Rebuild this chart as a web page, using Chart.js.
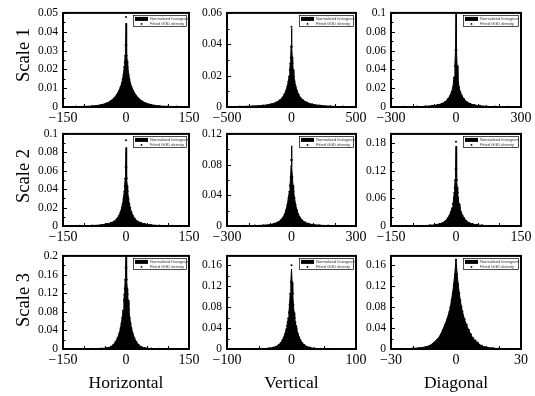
<!DOCTYPE html>
<html lang="en">
<head>
<meta charset="UTF-8">
<title>Subband histograms with GGD fits</title>
<script src="https://cdn.jsdelivr.net/npm/chart.js"></script>
<style>
  body { margin: 0; background: #fff; font-family: 'Liberation Serif', 'Times New Roman', serif; }
  #wrap { position: relative; width: 535px; height: 396px; overflow: hidden; }
  #wrap canvas { position: absolute; }
  .rowlab { position: absolute; font-size: 18.5px; line-height: 18.5px; white-space: nowrap;
            transform: translate(-50%, -50%) rotate(-90deg); }
  .collab { position: absolute; font-size: 17.5px; line-height: 17.5px; white-space: nowrap;
            transform: translateX(-50%); }
</style>
</head>
<body>
<div id="wrap"></div>
<script>
// row / column names
const rowNames = ['Scale 1', 'Scale 2', 'Scale 3'];
const colNames = ['Horizontal', 'Vertical', 'Diagonal'];
const histLabel = 'Normalized histogram';
const fitLabel = 'Fitted GGD density';

// Scale 1, horizontal
const binsH1 = [-150,-120,-100,-80,-60,-45,-35,-28,-22,-17,-13,-10,-8,-6,-4,-3,-2,-1,0,1,2,3,4,6,8,10,13,17,22,28,35,45,60,80,100,120,150];
const histH1 = [0.0001,0.0002,0.0003,0.0005,0.0011,0.0021,0.0035,0.0049,0.0066,0.0086,0.0107,0.0128,0.0149,0.0176,0.0218,0.0242,0.0275,0.0338,0.0445,0.0331,0.0279,0.0246,0.0221,0.0181,0.0153,0.0131,0.0109,0.0089,0.0069,0.0051,0.0037,0.0023,0.0012,0.0005,0.0003,0.00015,0.0001];
const fitH1  = [0.0001,0.0002,0.0003,0.0005,0.0010,0.0020,0.0033,0.0047,0.0064,0.0084,0.0105,0.0126,0.0146,0.0172,0.0212,0.0238,0.0272,0.0330,0.0478,0.0330,0.0272,0.0238,0.0212,0.0172,0.0146,0.0126,0.0105,0.0084,0.0064,0.0047,0.0033,0.0020,0.0010,0.0005,0.0003,0.0002,0.0001];

// Scale 1, vertical
const binsV1 = [-500,-400,-300,-220,-160,-120,-90,-70,-55,-42,-32,-24,-18,-13,-9,-6,-3,0,3,6,9,13,18,24,32,42,55,70,90,120,160,220,300,400,500];
const histV1 = [0.0001,0.0003,0.0006,0.0010,0.0018,0.0029,0.0045,0.0061,0.0081,0.0106,0.0134,0.0166,0.0199,0.0241,0.0282,0.0322,0.0392,0.0502,0.0388,0.0318,0.0279,0.0238,0.0201,0.0163,0.0136,0.0104,0.0079,0.0059,0.0043,0.0028,0.0017,0.0010,0.0005,0.0002,0.0001];
const fitV1  = [0.0001,0.0003,0.0005,0.0010,0.0017,0.0028,0.0043,0.0059,0.0079,0.0103,0.0131,0.0162,0.0195,0.0236,0.0277,0.0316,0.0384,0.0512,0.0384,0.0316,0.0277,0.0236,0.0195,0.0162,0.0131,0.0103,0.0079,0.0059,0.0043,0.0028,0.0017,0.0010,0.0005,0.0003,0.0001];

// Scale 1, diagonal
const binsD1 = [-300,-240,-180,-140,-110,-85,-65,-50,-38,-28,-20,-14,-9,-5,-2,0,2,5,9,14,20,28,38,50,65,85,110,140,180,240,300];
const histD1 = [0.0001,0.0002,0.0004,0.0007,0.0013,0.0022,0.0036,0.0055,0.0085,0.0118,0.0163,0.0212,0.0322,0.0448,0.0625,0.1040,0.0610,0.0441,0.0318,0.0209,0.0160,0.0115,0.0082,0.0053,0.0035,0.0021,0.0012,0.0007,0.0004,0.0002,0.0001];
const fitD1  = [0.0001,0.0002,0.0004,0.0007,0.0012,0.0021,0.0035,0.0053,0.0082,0.0114,0.0158,0.0207,0.0312,0.0436,0.0605,0.1120,0.0605,0.0436,0.0312,0.0207,0.0158,0.0114,0.0082,0.0053,0.0035,0.0021,0.0012,0.0007,0.0004,0.0002,0.0001];

// Scale 2, horizontal
const binsH2 = [-150,-110,-80,-60,-45,-35,-28,-22,-17,-13,-10,-8,-6,-4,-3,-2,-1,0,1,2,3,4,6,8,10,13,17,22,28,35,45,60,80,110,150];
const histH2 = [0.0001,0.0002,0.0005,0.0011,0.0023,0.0036,0.0051,0.0077,0.0112,0.0152,0.0203,0.0241,0.0302,0.0383,0.0443,0.0524,0.0656,0.0852,0.0648,0.0517,0.0437,0.0378,0.0298,0.0238,0.0198,0.0149,0.0109,0.0074,0.0049,0.0034,0.0021,0.0011,0.0005,0.0002,0.0001];
const fitH2  = [0.0001,0.0002,0.0005,0.0010,0.0021,0.0034,0.0049,0.0074,0.0108,0.0148,0.0198,0.0236,0.0295,0.0375,0.0435,0.0515,0.0640,0.0930,0.0640,0.0515,0.0435,0.0375,0.0295,0.0236,0.0198,0.0148,0.0108,0.0074,0.0049,0.0034,0.0021,0.0010,0.0005,0.0002,0.0001];

// Scale 2, vertical
const binsV2 = [-300,-220,-170,-130,-100,-80,-62,-50,-40,-32,-25,-19,-14,-10,-7,-4,-2,0,2,4,7,10,14,19,25,32,40,50,62,80,100,130,170,220,300];
const histV2 = [0.0001,0.0002,0.0005,0.0010,0.0018,0.0031,0.0051,0.0077,0.0112,0.0153,0.0213,0.0283,0.0372,0.0452,0.0533,0.0645,0.0788,0.1045,0.0775,0.0637,0.0528,0.0447,0.0367,0.0278,0.0208,0.0148,0.0108,0.0074,0.0049,0.0029,0.0018,0.0010,0.0005,0.0002,0.0001];
const fitV2  = [0.0001,0.0002,0.0005,0.0009,0.0017,0.0030,0.0049,0.0075,0.0109,0.0150,0.0208,0.0277,0.0365,0.0445,0.0525,0.0640,0.0860,0.1250,0.0860,0.0640,0.0525,0.0445,0.0365,0.0277,0.0208,0.0150,0.0109,0.0075,0.0049,0.0030,0.0017,0.0009,0.0005,0.0002,0.0001];

// Scale 2, diagonal
const binsD2 = [-150,-110,-80,-60,-48,-38,-30,-24,-19,-15,-12,-9,-7,-5,-4,-3,-2,-1,0,1,2,3,4,5,7,9,12,15,19,24,30,38,48,60,80,110,150];
const histD2 = [0.0001,0.0002,0.0006,0.0015,0.0027,0.0046,0.0074,0.0112,0.0172,0.0233,0.0304,0.0393,0.0484,0.0626,0.0727,0.0846,0.1012,0.1262,0.1735,0.1238,0.0988,0.0834,0.0713,0.0614,0.0476,0.0387,0.0297,0.0228,0.0168,0.0108,0.0070,0.0044,0.0025,0.0014,0.0006,0.0002,0.0001];
const fitD2  = [0.0001,0.0002,0.0006,0.0014,0.0026,0.0045,0.0072,0.0110,0.0168,0.0228,0.0298,0.0386,0.0476,0.0615,0.0714,0.0832,0.0995,0.1240,0.1830,0.1240,0.0995,0.0832,0.0714,0.0615,0.0476,0.0386,0.0298,0.0228,0.0168,0.0110,0.0072,0.0045,0.0026,0.0014,0.0006,0.0002,0.0001];

// Scale 3, horizontal
const binsH3 = [-150,-110,-80,-60,-45,-36,-30,-25,-20,-16,-13,-11,-9,-7,-5,-4,-3,-2,-1,0,1,2,3,4,5,7,9,11,13,16,20,25,30,36,45,60,80,110,150];
const histH3 = [0.0001,0.0002,0.0004,0.0009,0.0023,0.0049,0.0092,0.0152,0.0243,0.0338,0.0452,0.0553,0.0672,0.0834,0.1052,0.1183,0.1306,0.1508,0.1762,0.2060,0.1741,0.1493,0.1294,0.1172,0.1043,0.0826,0.0664,0.0547,0.0447,0.0342,0.0237,0.0148,0.0088,0.0047,0.0021,0.0009,0.0004,0.0002,0.0001];
const fitH3  = [0.0001,0.0002,0.0004,0.0009,0.0022,0.0047,0.0089,0.0148,0.0238,0.0333,0.0446,0.0546,0.0664,0.0826,0.1040,0.1170,0.1292,0.1490,0.1745,0.2150,0.1745,0.1490,0.1292,0.1170,0.1040,0.0826,0.0664,0.0546,0.0446,0.0333,0.0238,0.0148,0.0089,0.0047,0.0022,0.0009,0.0004,0.0002,0.0001];

// Scale 3, vertical
const binsV3 = [-100,-80,-60,-45,-35,-28,-24,-20,-17,-14,-12,-10,-8,-7,-6,-5,-4,-3,-2,-1,0,1,2,3,4,5,6,7,8,10,12,14,17,20,24,28,35,45,60,80,100];
const histV3 = [0.0001,0.0001,0.0003,0.0006,0.0015,0.0029,0.0046,0.0077,0.0112,0.0173,0.0223,0.0294,0.0383,0.0443,0.0514,0.0593,0.0705,0.0856,0.1066,0.1288,0.1525,0.1272,0.1052,0.0843,0.0694,0.0586,0.0506,0.0436,0.0377,0.0287,0.0217,0.0168,0.0108,0.0074,0.0044,0.0027,0.0013,0.0006,0.0003,0.0001,0.0001];
const fitV3  = [0.0001,0.0001,0.0003,0.0006,0.0014,0.0028,0.0045,0.0075,0.0110,0.0170,0.0220,0.0290,0.0378,0.0438,0.0508,0.0587,0.0698,0.0848,0.1055,0.1275,0.1600,0.1275,0.1055,0.0848,0.0698,0.0587,0.0508,0.0438,0.0378,0.0290,0.0220,0.0170,0.0110,0.0075,0.0045,0.0028,0.0014,0.0006,0.0003,0.0001,0.0001];

// Scale 3, diagonal
const binsD3 = [-30,-25,-20,-17,-14,-12,-10,-9,-8,-7,-6,-5,-4,-3,-2.5,-2,-1.5,-1,-0.5,0,0.5,1,1.5,2,2.5,3,4,5,6,7,8,9,10,12,14,17,20,25,30];
const histD3 = [0.0001,0.0004,0.0011,0.0021,0.0040,0.0068,0.0131,0.0172,0.0215,0.0288,0.0379,0.0478,0.0588,0.0735,0.0832,0.0952,0.1092,0.1262,0.1458,0.1725,0.1442,0.1238,0.1068,0.0928,0.0808,0.0706,0.0556,0.0447,0.0349,0.0262,0.0194,0.0152,0.0114,0.0057,0.0032,0.0016,0.0008,0.0003,0.0001];
const fitD3  = [0.0001,0.0003,0.0010,0.0019,0.0037,0.0063,0.0122,0.0162,0.0205,0.0276,0.0365,0.0462,0.0570,0.0712,0.0810,0.0930,0.1070,0.1240,0.1430,0.1700,0.1430,0.1240,0.1070,0.0930,0.0810,0.0712,0.0570,0.0462,0.0365,0.0276,0.0205,0.0162,0.0122,0.0063,0.0037,0.0019,0.0010,0.0003,0.0001];

// tick labels
const xTicks1 = [-150, 0, 150];
const xTicks2 = [-500, 0, 500];
const xTicks3 = [-300, 0, 300];
const xTicks4 = [-100, 0, 100];
const xTicks5 = [-30, 0, 30];
const yTicksA = [0, 0.01, 0.02, 0.03, 0.04, 0.05];
const yTicksB = [0, 0.02, 0.04, 0.06];
const yTicksC = [0, 0.02, 0.04, 0.06, 0.08, 0.1];
const yTicksD = [0, 0.04, 0.08, 0.12];
const yTicksE = [0, 0.06, 0.12, 0.18];
const yTicksF = [0, 0.04, 0.08, 0.12, 0.16, 0.2];
const yTicksG = [0, 0.04, 0.08, 0.12, 0.16];

// layout of the plot boxes (pixels)
const colL = [63, 227, 391], colR = [189, 356, 521];
const rowT = [9, 130, 252], rowB = [107, 226, 349];

const panels = [
  {r:0, c:0, x:binsH1, h:histH1, f:fitH1, xt:xTicks1, xm:50,  yt:yTicksA, ymax:0.05,  ym:0.005},
  {r:0, c:1, x:binsV1, h:histV1, f:fitV1, xt:xTicks2, xm:500/3, yt:yTicksB, ymax:0.06, ym:0.01},
  {r:0, c:2, x:binsD1, h:histD1, f:fitD1, xt:xTicks3, xm:100, yt:yTicksC, ymax:0.1,   ym:0.01},
  {r:1, c:0, x:binsH2, h:histH2, f:fitH2, xt:xTicks1, xm:50,  yt:yTicksC, ymax:0.1,   ym:0.01},
  {r:1, c:1, x:binsV2, h:histV2, f:fitV2, xt:xTicks3, xm:100, yt:yTicksD, ymax:0.12,  ym:0.02},
  {r:1, c:2, x:binsD2, h:histD2, f:fitD2, xt:xTicks1, xm:50,  yt:yTicksE, ymax:0.2,   ym:0.02},
  {r:2, c:0, x:binsH3, h:histH3, f:fitH3, xt:xTicks1, xm:50,  yt:yTicksF, ymax:0.2,   ym:0.02},
  {r:2, c:1, x:binsV3, h:histV3, f:fitV3, xt:xTicks4, xm:50,  yt:yTicksG, ymax:0.178, ym:0.02},
  {r:2, c:2, x:binsD3, h:histD3, f:fitD3, xt:xTicks5, xm:10,  yt:yTicksG, ymax:0.178, ym:0.02}
];

const FONT = "'Liberation Serif', 'Times New Roman', serif";
const fmt = v => String(+(+v).toFixed(4)).replace('-', '\u2212');

// inward ticks, frame and the small legend box
const framePlugin = {
  id: 'frame',
  afterDraw(chart, args, o) {
    const {ctx, chartArea: a, scales: {x, y}} = chart;
    ctx.save();
    ctx.strokeStyle = '#000';
    ctx.lineWidth = 1;
    ctx.beginPath();
    const ny = Math.round(y.max / o.ym);
    for (let i = 0; i <= ny; i++) {
      const v = i * o.ym;
      const major = o.yt.some(t => Math.abs(t - v) < 1e-9);
      const py = Math.round(y.getPixelForValue(v)) + 0.5;
      ctx.moveTo(a.left, py);
      ctx.lineTo(a.left + (major ? 4 : 2.5), py);
    }
    const nx = Math.round((x.max - x.min) / o.xm);
    for (let i = 0; i <= nx; i++) {
      const px = Math.round(x.getPixelForValue(x.min + i * o.xm)) + 0.5;
      ctx.moveTo(px, a.bottom);
      ctx.lineTo(px, a.bottom - 3);
    }
    ctx.stroke();

    ctx.lineWidth = 2;
    ctx.strokeRect(a.left, a.top, a.right - a.left, a.bottom - a.top);

    // legend
    const lw = Math.round((a.right - a.left) * 0.43), lh = 12;
    const lx = a.right - lw - 2, ly = a.top + 2;
    ctx.fillStyle = '#fff';
    ctx.fillRect(lx, ly, lw, lh);
    ctx.lineWidth = 0.7;
    ctx.strokeRect(lx + 0.5, ly + 0.5, lw - 1, lh - 1);
    ctx.fillStyle = '#000';
    ctx.fillRect(lx + 2, ly + 2, 13, 4);
    ctx.beginPath();
    ctx.arc(lx + 8.5, ly + 9, 0.9, 0, Math.PI * 2);
    ctx.fill();
    ctx.font = "4px 'Liberation Sans', sans-serif";
    ctx.textBaseline = 'middle';
    ctx.fillStyle = '#333';
    ctx.fillText(chart.data.datasets[0].label, lx + 17, ly + 4.2);
    ctx.fillText(chart.data.datasets[1].label, lx + 17, ly + 9.2);
    ctx.restore();
  }
};

const wrap = document.getElementById('wrap');
const PADL = 50, PADT = 8, PADR = 16, PADB = 24;

panels.forEach(p => {
  const L = colL[p.c], R = colR[p.c], T = rowT[p.r], B = rowB[p.r];
  const cv = document.createElement('canvas');
  cv.width = (R - L) + PADL + PADR;
  cv.height = (B - T) + PADT + PADB;
  cv.style.left = (L - PADL) + 'px';
  cv.style.top = (T - PADT) + 'px';
  wrap.appendChild(cv);

  new Chart(cv.getContext('2d'), {
    type: 'line',
    data: {
      datasets: [{
        label: histLabel,
        data: p.x.map((v, i) => ({x: v, y: p.h[i]})),
        borderColor: '#000',
        borderWidth: 1,
        backgroundColor: '#000',
        fill: 'origin',
        pointRadius: 0,
        tension: 0,
        order: 2
      }, {
        label: fitLabel,
        data: p.x.map((v, i) => ({x: v, y: p.f[i]})),
        showLine: false,
        pointRadius: 1,
        pointBorderWidth: 0,
        pointBackgroundColor: '#000',
        order: 1
      }]
    },
    options: {
      responsive: false,
      animation: false,
      events: [],
      layout: { padding: { left: 0, top: PADT, right: PADR, bottom: 0 } },
      plugins: {
        legend: { display: false },
        tooltip: { enabled: false },
        frame: { yt: p.yt, ym: p.ym, xm: p.xm }
      },
      scales: {
        x: {
          type: 'linear',
          min: p.xt[0], max: p.xt[p.xt.length - 1],
          grid: { display: false, drawTicks: false },
          border: { display: false },
          ticks: { padding: 3, color: '#000', maxRotation: 0, autoSkip: false,
                   font: { family: FONT, size: 14 }, callback: fmt },
          afterBuildTicks: s => { s.ticks = p.xt.map(v => ({value: v})); },
          afterFit: s => { s.height = PADB; }
        },
        y: {
          min: 0, max: p.ymax,
          grid: { display: false, drawTicks: false },
          border: { display: false },
          ticks: { padding: 5, color: '#000', autoSkip: false,
                   font: { family: FONT, size: 11.5 }, callback: fmt },
          afterBuildTicks: s => { s.ticks = p.yt.map(v => ({value: v})); },
          afterFit: s => { s.width = PADL; }
        }
      }
    },
    plugins: [framePlugin]
  });
});

// row and column titles
const rowMid = [55, 176, 300];
rowNames.forEach((t, i) => {
  const d = document.createElement('div');
  d.className = 'rowlab';
  d.textContent = t;
  d.style.left = '23px';
  d.style.top = rowMid[i] + 'px';
  wrap.appendChild(d);
});
colNames.forEach((t, i) => {
  const d = document.createElement('div');
  d.className = 'collab';
  d.textContent = t;
  d.style.left = ((colL[i] + colR[i]) / 2) + 'px';
  d.style.top = '374px';
  wrap.appendChild(d);
});
</script>
</body>
</html>
